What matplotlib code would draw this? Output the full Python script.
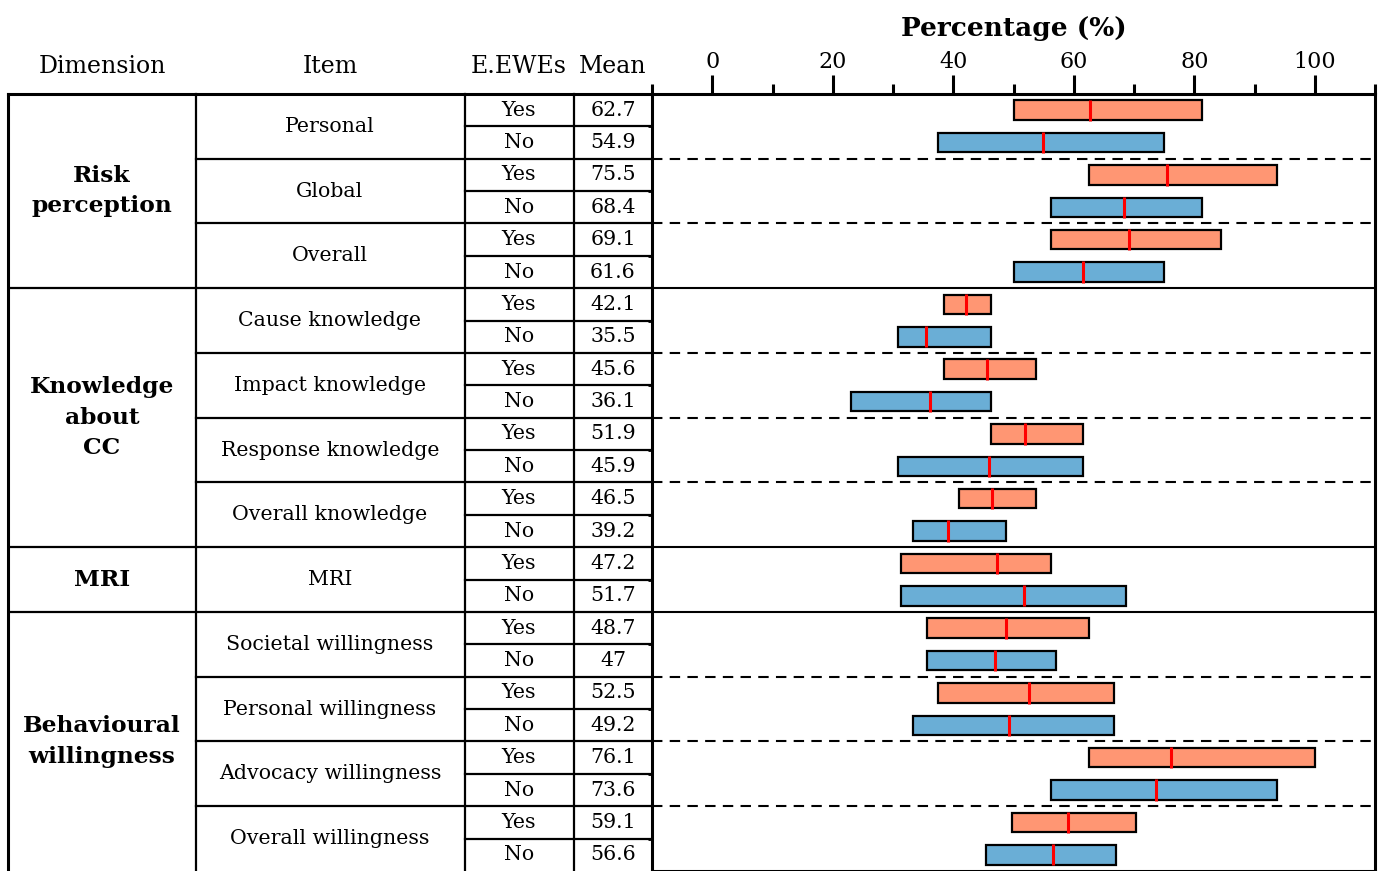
import numpy as np
import matplotlib
matplotlib.use("Agg")
import matplotlib.pyplot as plt

plt.rcParams['font.family'] = ['DejaVu Serif']

# data
dimensions = ["Risk\nperception", "Knowledge\nabout\nCC", "MRI", "Behavioural\nwillingness"]
dim_sizes = [3, 4, 1, 4]  # number of items per dimension
items = ["Personal", "Global", "Overall",
         "Cause knowledge", "Impact knowledge", "Response knowledge", "Overall knowledge",
         "MRI",
         "Societal willingness", "Personal willingness", "Advocacy willingness", "Overall willingness"]
groups = ["Yes", "No"]
mean_yes = [62.7, 75.5, 69.1, 42.1, 45.6, 51.9, 46.5, 47.2, 48.7, 52.5, 76.1, 59.1]
mean_no = [54.9, 68.4, 61.6, 35.5, 36.1, 45.9, 39.2, 51.7, 47, 49.2, 73.6, 56.6]
q1_yes = [50, 62.5, 56.25, 38.5, 38.5, 46.2, 41.0, 31.25, 35.7, 37.5, 62.5, 49.7]
q3_yes = [81.25, 93.75, 84.4, 46.2, 53.8, 61.5, 53.8, 56.25, 62.5, 66.7, 100, 70.4]
q1_no = [37.5, 56.25, 50, 30.8, 23.1, 30.8, 33.3, 31.25, 35.7, 33.3, 56.25, 45.4]
q3_no = [75, 81.25, 75, 46.2, 46.2, 61.5, 48.7, 68.75, 57.1, 66.7, 93.75, 67.0]

c_yes = '#FF9673'
c_no = '#6AAED6'

W, H = 1378, 871
fig = plt.figure(figsize=(W / 100, H / 100), dpi=100)

n_rows = 2 * len(items)
top = 1 - 94 / H
bottom = 0.0
x_tab0, x_tab1, x_plot1 = 8, 652, 1375

# plot part
ax = fig.add_axes([x_tab1 / W, bottom, (x_plot1 - x_tab1) / W, top - bottom])
ax.set_xlim(-10, 110)
ax.set_ylim(n_rows, 0)

y_yes = np.arange(len(items)) * 2 + 0.5
y_no = y_yes + 1
bh = 0.6
ax.barh(y_yes, np.array(q3_yes) - np.array(q1_yes), left=q1_yes, height=bh,
        color=c_yes, edgecolor='black', linewidth=1.6, zorder=3)
ax.barh(y_no, np.array(q3_no) - np.array(q1_no), left=q1_no, height=bh,
        color=c_no, edgecolor='black', linewidth=1.6, zorder=3)
ax.vlines(mean_yes, y_yes - 0.33, y_yes + 0.33, color='red', lw=2.2, zorder=4)
ax.vlines(mean_no, y_no - 0.33, y_no + 0.33, color='red', lw=2.2, zorder=4)

# separators in plot
dim_ends = np.cumsum(dim_sizes) * 2
for k in range(1, len(items)):
    yb = 2 * k
    if yb in dim_ends:
        ax.axhline(yb, color='black', lw=1.5, zorder=2)
    else:
        ax.axhline(yb, color='black', lw=1.5, ls=(0, (5, 3.5)), zorder=2)

ax.xaxis.tick_top()
ax.set_xticks(np.arange(0, 101, 20))
ax.set_xticks(np.arange(-10, 111, 20), minor=True)
ax.tick_params(axis='x', which='major', length=14, width=2.2, labelsize=16, pad=1)
ax.tick_params(axis='x', which='minor', length=7, width=2.2)
ax.set_yticks(np.arange(1, n_rows, 2))
ax.set_yticklabels([])
ax.tick_params(axis='y', length=3, width=2)
for s in ax.spines.values():
    s.set_linewidth(2.2)
ax.set_title("Percentage (%)", fontsize=19, fontweight='bold', pad=42)

# table part
tab = fig.add_axes([x_tab0 / W, bottom, (x_tab1 - x_tab0) / W, top - bottom])
tab.set_xlim(x_tab0, x_tab1)
tab.set_ylim(n_rows, 0)
tab.axis('off')
cols = [8, 196, 465, 574, 652]
lw_t = 1.6
tab.plot([cols[0], cols[-1]], [0, 0], color='black', lw=2.2, clip_on=False)
tab.plot([cols[0], cols[0]], [0, n_rows], color='black', lw=2.2, clip_on=False)
for cx in cols[1:4]:
    tab.plot([cx, cx], [0, n_rows], color='black', lw=lw_t, clip_on=False)
for r in range(1, n_rows):
    if r in dim_ends:
        x0 = cols[0]
    elif r % 2 == 0:
        x0 = cols[1]
    else:
        x0 = cols[2]
    tab.plot([x0, cols[-1]], [r, r], color='black', lw=lw_t)

fs = 14.8
start = 0
for d, sz in zip(dimensions, dim_sizes):
    tab.text(102, start + sz, d, ha='center', va='center', fontsize=16.8,
             fontweight='bold', linespacing=1.5)
    start += 2 * sz
for i, it in enumerate(items):
    tab.text(330, 2 * i + 1, it, ha='center', va='center', fontsize=fs)
    tab.text(519, 2 * i + 0.5, groups[0], ha='center', va='center', fontsize=fs)
    tab.text(519, 2 * i + 1.5, groups[1], ha='center', va='center', fontsize=fs)
    tab.text(613, 2 * i + 0.5, f"{mean_yes[i]:g}", ha='center', va='center', fontsize=fs)
    tab.text(613, 2 * i + 1.5, f"{mean_no[i]:g}", ha='center', va='center', fontsize=fs)

hy = -0.85
for label, hx in zip(["Dimension", "Item", "E.EWEs", "Mean"], [102, 330, 519, 613]):
    tab.text(hx, hy, label, ha='center', va='center', fontsize=17, clip_on=False)

fig.savefig("out.png", dpi=100)
